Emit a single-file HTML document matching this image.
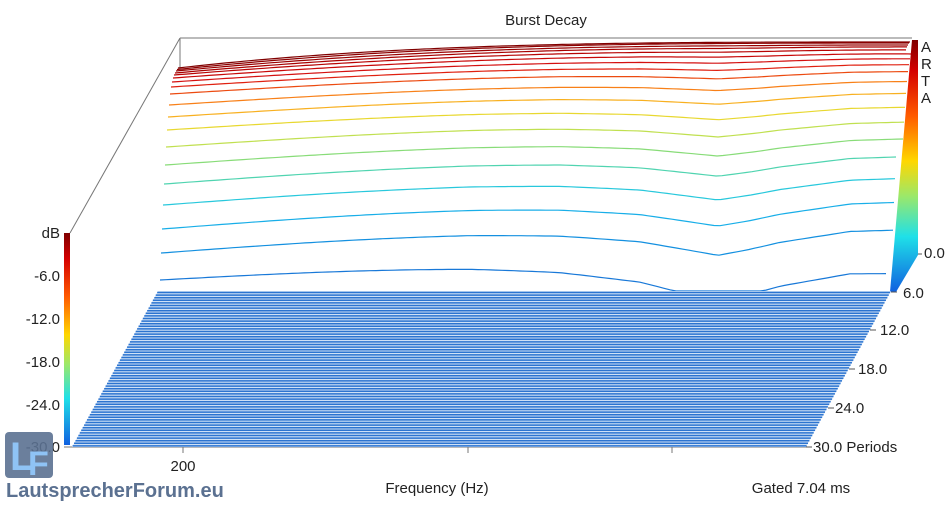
<!DOCTYPE html>
<html><head><meta charset="utf-8"><style>
html,body{margin:0;padding:0;background:#fff;}
svg{display:block;font-family:"Liberation Sans",Arial,sans-serif;}
</style></head><body>
<svg id="s" width="952" height="507" viewBox="0 0 952 507" xmlns="http://www.w3.org/2000/svg">
<defs>
<linearGradient id="jet" x1="0" y1="0" x2="0" y2="1">
<stop offset="0" stop-color="#7f0000"/><stop offset="0.12" stop-color="#d40000"/><stop offset="0.3" stop-color="#ff5a00"/><stop offset="0.48" stop-color="#ffd700"/><stop offset="0.62" stop-color="#9be86a"/><stop offset="0.78" stop-color="#1fe0e8"/><stop offset="1" stop-color="#1060e0"/>
</linearGradient>
</defs>
<rect width="952" height="507" fill="#fff"/>
<text x="546" y="25" font-size="15" text-anchor="middle" fill="#222">Burst Decay</text>
<g stroke="#777" stroke-width="1" fill="none">
<line x1="180" y1="38" x2="912" y2="38"/>
<line x1="180" y1="38" x2="180" y2="68"/>
<line x1="180" y1="38" x2="70" y2="233"/>
<line x1="64" y1="447" x2="808" y2="447"/>
<line x1="183" y1="447" x2="183" y2="453"/>
<line x1="468" y1="447" x2="468" y2="453"/>
<line x1="672" y1="447" x2="672" y2="453"/>
</g>
<polygon points="912,40 918,40 918,255 896,292 890,292" fill="url(#jet)"/>
<rect x="64" y="233" width="6" height="212" fill="url(#jet)"/>
<g id="curves" fill="none" stroke-width="1.2"></g>
<polygon points="158,291 891,291 806,447 72,447" fill="#cfe1f6"/>
<g id="floor" stroke="#2c74d0" stroke-width="1.5"></g>
<g font-size="15" fill="#222">
<text x="60" y="238" text-anchor="end">dB</text>
<text x="60" y="281" text-anchor="end">-6.0</text>
<text x="60" y="324" text-anchor="end">-12.0</text>
<text x="60" y="367" text-anchor="end">-18.0</text>
<text x="60" y="410" text-anchor="end">-24.0</text>
<text x="60" y="452" text-anchor="end">-30.0</text>
<text x="921" y="52">A</text><text x="921" y="69">R</text><text x="921" y="86">T</text><text x="921" y="103">A</text>
<text x="924" y="258">0.0</text>
<text x="903" y="298">6.0</text>
<text x="880" y="335">12.0</text>
<text x="858" y="374">18.0</text>
<text x="835" y="413">24.0</text>
<text x="813" y="452">30.0 Periods</text>
<text x="183" y="471" text-anchor="middle">200</text>
<text x="437" y="493" text-anchor="middle">Frequency (Hz)</text>
<text x="801" y="493" text-anchor="middle">Gated 7.04 ms</text>
</g>
<g stroke="#555" stroke-width="1">
<line x1="918" y1="254" x2="922" y2="254"/>
<line x1="891" y1="292" x2="897" y2="292"/>
<line x1="870" y1="330" x2="876" y2="330"/>
<line x1="849" y1="369" x2="855" y2="369"/>
<line x1="828" y1="408" x2="834" y2="408"/>
<line x1="806" y1="447" x2="812" y2="447"/>
</g>
<rect x="5" y="432" width="48" height="46" rx="4" fill="#5b7191" opacity="0.9"/>
<text x="10" y="470" font-size="40" font-weight="bold" fill="#8fc3f5">L</text>
<text x="28" y="475" font-size="34" font-weight="bold" fill="#8fc3f5">F</text>
<text x="6" y="497" font-size="20" font-weight="bold" fill="#5b7191">LautsprecherForum.eu</text>
</svg>
<script>
var cols=["#800000","#8c0000","#980000","#a80000","#b80404","#c80808","#d41010","#e02010","#ec4a10","#f88018","#f8b020","#e8d830","#c0e050","#88dc78","#50d4b0","#28c8dc","#18aee8","#1490e0","#1878d8"];
var L=[68,69.5,71,73,75,78,82,87,94,105,117,130,147,165,184,205,229,253,280];
var R=[42,43,45,47,50,54,59,65,72,82,94,108,123,140,158,180,204,232,276];
var N=L.length;
var cg=document.getElementById('curves');
function dip(x){var k=[[160,0],[470,0],[560,2],[640,8],[718,22],[780,8],[850,-2],[910,-2]];
for(var j=0;j<k.length-1;j++){if(x>=k[j][0]&&x<=k[j+1][0]){var t=(x-k[j][0])/(k[j+1][0]-k[j][0]);return k[j][1]+t*(k[j+1][1]-k[j][1]);}}return 0;}
for(var i=0;i<N;i++){
 var d=i/(N-1);
 var x0=178-18*d, x1=912-22*Math.pow(d,3);
 var pts=[];
 for(var x=x0;x<=x1+0.1;x+=6){
  var t=(x-x0)/(x1-x0);
  var e=1-Math.pow(1-t,1+2.2*Math.pow(1-d,3));
  var y=L[i]+(R[i]-L[i])*e;
  y+= -9*d*Math.sin(Math.PI*Math.min(1,t/0.8));
  y+= dip(x)*d*d*(i==N-1?1.2:1);
  if(y>291)y=291;
  pts.push(x.toFixed(1)+","+y.toFixed(1));
 }
 var p=document.createElementNS("http://www.w3.org/2000/svg","polyline");
 p.setAttribute("points",pts.join(" "));p.setAttribute("stroke",cols[i]);
 cg.appendChild(p);
}
var fg=document.getElementById('floor');
for(var y=292.5;y<=447;y+=2.6){
 var f=(y-291)/156;
 var xl=158-86*f, xr=891-85*f;
 var l=document.createElementNS("http://www.w3.org/2000/svg","line");
 l.setAttribute("x1",xl);l.setAttribute("x2",xr);l.setAttribute("y1",y);l.setAttribute("y2",y);
 fg.appendChild(l);
}
</script>
</body></html>
